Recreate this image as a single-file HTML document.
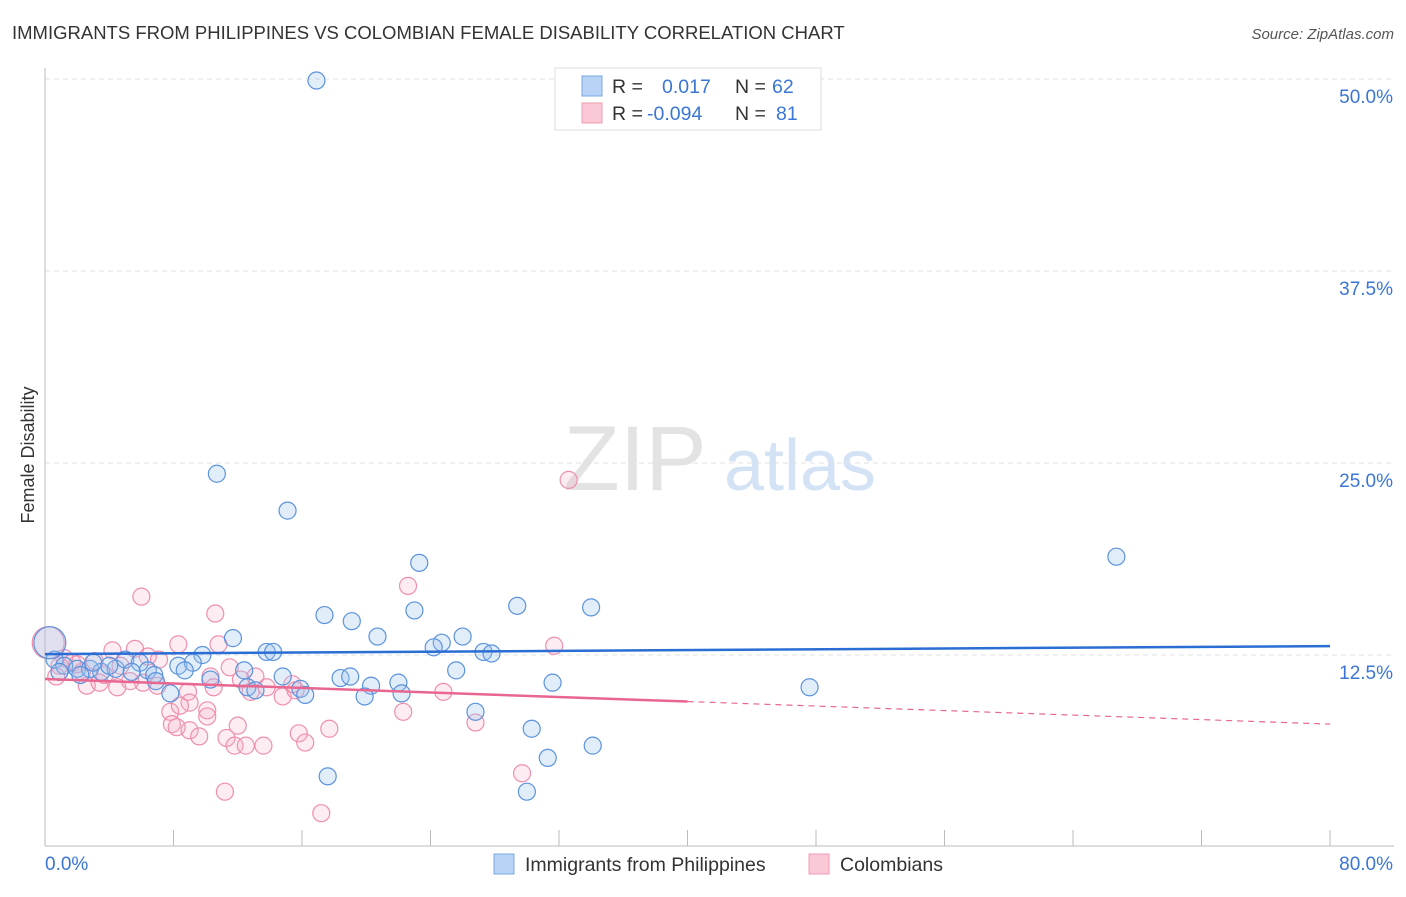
<!DOCTYPE html>
<html><head><meta charset="utf-8"><style>
body{margin:0;background:#fff;font-family:"Liberation Sans",sans-serif;}
svg text{font-family:"Liberation Sans",sans-serif;}
</style></head><body>
<svg id="chart" width="1406" height="892" xmlns="http://www.w3.org/2000/svg">
<text x="12" y="39" font-size="18.5" fill="#333">IMMIGRANTS FROM PHILIPPINES VS COLOMBIAN FEMALE DISABILITY CORRELATION CHART</text>
<text x="1394" y="39" font-size="15" fill="#555" text-anchor="end" font-style="italic">Source: ZipAtlas.com</text>
<g>
<text x="635" y="490" font-size="92" fill="#e3e3e3" font-family="Liberation Serif" text-anchor="middle">ZIP</text>
<text x="800" y="490" font-size="72" fill="#d3e2f5" text-anchor="middle">atlas</text>
</g>
<g id="grid"></g>
<g id="axes"></g>
<g id="pts"></g>
<g id="trends"></g>
<text transform="translate(34,455) rotate(-90)" font-size="18" fill="#333" text-anchor="middle">Female Disability</text>
<g>
<rect x="555" y="68" width="266" height="62" fill="#fff" stroke="#ddd"/>
<rect x="582" y="76" width="20" height="20" fill="#b8d3f5" stroke="#7aa7e3"/>
<rect x="582" y="103" width="20" height="20" fill="#fbc8d6" stroke="#f29bb4"/>
<text x="612" y="93" font-size="19.5" fill="#333">R =</text>
<text x="662" y="93" font-size="19.5" fill="#3a76d6">0.017</text>
<text x="735" y="93" font-size="19.5" fill="#333">N =</text>
<text x="772" y="93" font-size="19.5" fill="#3a76d6">62</text>
<text x="612" y="120" font-size="19.5" fill="#333">R =</text>
<text x="647" y="120" font-size="19.5" fill="#3a76d6">-0.094</text>
<text x="735" y="120" font-size="19.5" fill="#333">N =</text>
<text x="776" y="120" font-size="19.5" fill="#3a76d6">81</text>
</g>
<g>
<rect x="494" y="854" width="20" height="20" fill="#b8d3f5" stroke="#7aa7e3"/>
<text x="525" y="871" font-size="19.5" fill="#333">Immigrants from Philippines</text>
<rect x="809" y="854" width="20" height="20" fill="#fbc8d6" stroke="#f29bb4"/>
<text x="840" y="871" font-size="19.5" fill="#333">Colombians</text>
</g>
</svg>
<script>
const xTickLabels=["0.0%","80.0%"];
const yTicks=[12.5,25,37.5,50];
const yTickLabels=["12.5%","25.0%","37.5%","50.0%"];
const blueX=[16.9,10.7,15.1,23.3,66.7,29.4,34.0,17.4,23.0,19.1,11.7,20.7,26.0,24.7,24.2,27.3,27.8,13.8,14.2,9.8,8.3,9.2,8.7,12.4,14.8,18.4,19.0,20.3,22.0,25.6,31.6,47.6,10.3,12.6,13.1,15.9,16.2,19.9,22.2,7.8,26.8,30.3,34.1,31.3,17.6,30.0,0.6,1.2,2.0,2.8,3.5,4.4,5.0,5.9,6.4,6.8,5.4,0.9,2.2,3.0,4.0,6.9];
const blueY=[49.9,24.3,21.9,18.5,18.9,15.7,15.6,15.1,15.4,14.7,13.6,13.7,13.7,13.3,13.0,12.7,12.6,12.7,12.7,12.5,11.8,12.0,11.5,11.5,11.1,11.0,11.1,10.5,10.7,11.5,10.7,10.4,10.9,10.4,10.2,10.3,9.9,9.8,10.0,10.0,8.8,7.7,6.6,5.8,4.6,3.6,12.2,11.8,11.6,11.6,11.4,11.6,12.2,12.0,11.5,11.2,11.4,11.4,11.2,12.0,11.8,10.8];
const pinkX=[32.6,22.6,6.0,10.6,31.7,8.3,10.8,24.8,22.3,26.8,29.7,11.2,17.2,12.0,17.7,7.8,10.1,10.1,7.9,8.2,9.0,9.6,11.3,11.8,12.5,13.6,15.8,16.2,8.9,9.0,8.4,5.6,11.5,13.1,13.8,14.8,15.4,15.6,12.8,4.7,6.4,7.1,4.2,3.1,0.9,0.7,2.6,3.4,4.5,6.1,7.0,3.7,1.7,2.3,5.3,10.3,10.5,12.2,0.2,1.2,2.0];
const pinkY=[23.9,17.0,16.3,15.2,13.1,13.2,13.2,10.1,8.8,8.1,4.8,3.6,2.2,7.9,7.7,8.8,8.9,8.5,8.0,7.8,7.6,7.2,7.1,6.6,6.6,6.6,7.4,6.8,10.1,9.4,9.2,12.9,11.7,11.1,10.4,9.8,10.6,10.2,10.1,11.8,12.4,12.2,12.8,12.1,11.8,11.1,10.5,10.7,10.4,10.7,10.5,11.2,12.0,11.4,10.8,11.1,10.4,10.9,13.3,12.3,11.9];
const blueTrend=[12.56,13.08];
const pinkTrend=[10.94,8.0];
const pinkSolidEnd=40;
const X=v=>45+v/80*1285, Y=v=>847-v/12.5*192;
const NS="http://www.w3.org/2000/svg";
function mk(p,t,a){const e=document.createElementNS(NS,t);for(const k in a)e.setAttribute(k,a[k]);p.appendChild(e);return e;}
const grid=document.getElementById('grid'),axes=document.getElementById('axes'),pts=document.getElementById('pts'),tr=document.getElementById('trends');
yTicks.forEach((v,i)=>{
 const l=mk(grid,'line',{x1:45,x2:1394,y1:Y(v),y2:Y(v),stroke:'#e2e2e2','stroke-dasharray':'5,4'});
 
 
 const t=mk(axes,'text',{x:1393,y:Y(v)+24,'font-size':19,fill:'#3a76d6','text-anchor':'end'});
 t.textContent=yTickLabels[i];
 
 
});
mk(axes,'line',{x1:45,x2:45,y1:68,y2:846,stroke:'#bbb'});
mk(axes,'line',{x1:45,x2:1394,y1:846,y2:846,stroke:'#bbb'});
for(let i=0;i<=10;i++){const l=mk(axes,'line',{x1:X(i*8),x2:X(i*8),y1:830,y2:846,stroke:'#bbb'});
 
 }
const t0=mk(axes,'text',{x:45,y:870,'font-size':19,fill:'#3a76d6'});t0.textContent=xTickLabels[0];


const t1=mk(axes,'text',{x:1393,y:870,'font-size':19,fill:'#3a76d6','text-anchor':'end'});t1.textContent=xTickLabels[1];


pinkX.forEach((x,i)=>{const c=mk(pts,'circle',{cx:X(x),cy:Y(pinkY[i]),r:i==58?16:8.5,fill:'rgba(248,170,195,0.22)',stroke:'#ee8fae','stroke-width':1.2});
 
 });
blueX.forEach((x,i)=>{const c=mk(pts,'circle',{cx:X(x),cy:Y(blueY[i]),r:8.5,fill:'rgba(160,195,240,0.3)',stroke:'#5b93dc','stroke-width':1.2});
 
 });
const big=mk(pts,'circle',{cx:X(0.3),cy:Y(13.3),r:16,fill:'rgba(160,195,240,0.3)',stroke:'#5b93dc','stroke-width':1.2});


const bl=mk(tr,'line',{x1:X(0),y1:Y(blueTrend[0]),x2:X(80),y2:Y(blueTrend[1]),stroke:'#2a6dd4','stroke-width':2.5});


const pm=pinkTrend[0]+(pinkTrend[1]-pinkTrend[0])*pinkSolidEnd/80;
const pl=mk(tr,'line',{x1:X(0),y1:Y(pinkTrend[0]),x2:X(pinkSolidEnd),y2:Y(pm),stroke:'#e8668f','stroke-width':2.5});


const pd=mk(tr,'line',{x1:X(pinkSolidEnd),y1:Y(pm),x2:X(80),y2:Y(pinkTrend[1]),stroke:'#e8668f','stroke-width':1.2,'stroke-dasharray':'6,5'});


</script>
</body></html>
